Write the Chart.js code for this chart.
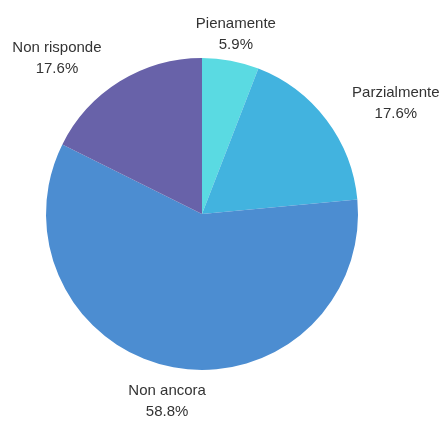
<!DOCTYPE html>
<html><head><meta charset="utf-8">
<script src="https://cdn.jsdelivr.net/npm/chart.js@4/dist/chart.umd.min.js"></script>
<style>html,body{margin:0;padding:0;background:#fff}#wrap{width:442px;height:421px}</style>
</head><body><div id="wrap"><canvas id="c" width="442" height="421"></canvas></div>
<script>
const categories = ["Pienamente", "Parzialmente", "Non ancora", "Non risponde"];
const counts = [1, 3, 10, 3];
const colors = ["#5adae2", "#42b3df", "#4c8dd1", "#6862a9"];

const total = counts.reduce((a, b) => a + b, 0);

const outLabels = {
  id: 'outLabels',
  afterDatasetsDraw(chart, args, opts) {
    const ctx = chart.ctx;
    const meta = chart.getDatasetMeta(0);
    ctx.save();
    ctx.font = '15px "Liberation Sans", Arial, sans-serif';
    ctx.fillStyle = '#333333';
    const lh = 21;
    meta.data.forEach((arc, i) => {
      const p = arc.getProps(['x', 'y', 'startAngle', 'endAngle', 'outerRadius'], true);
      const mid = (p.startAngle + p.endAngle) / 2;
      const r = p.outerRadius + 12;
      let ax = p.x + Math.cos(mid) * r;
      let ay = p.y + Math.sin(mid) * r;
      const nudge = (opts.nudge && opts.nudge[i]) || [0, 0];
      const c = Math.cos(mid), s = Math.sin(mid);
      const lines = [categories[i], (counts[i] / total * 100).toFixed(1) + '%'];
      const w = Math.max(...lines.map(t => ctx.measureText(t).width));
      let cx;
      if (c > 0.3) cx = ax + w / 2;
      else if (c < -0.3) cx = ax - w / 2;
      else cx = ax;
      let top = s < 0 ? ay - lh * 2 : ay;
      cx += nudge[0]; top += nudge[1];
      ctx.textAlign = 'center';
      ctx.textBaseline = 'middle';
      lines.forEach((t, k) => ctx.fillText(t, cx, top + lh * k + lh / 2));
    });
    ctx.restore();
  }
};

new Chart(document.getElementById('c'), {
  type: 'pie',
  data: {
    labels: categories,
    datasets: [{ data: counts, backgroundColor: colors, borderWidth: 0 }]
  },
  options: {
    responsive: false,
    animation: false,
    layout: { padding: { left: 46, right: 84, top: 58, bottom: 51 } },
    plugins: {
      legend: { display: false },
      tooltip: { enabled: false },
      outLabels: { nudge: [[3, 6], [16, 12], [-4, 1], [-12, 8]] }
    }
  },
  plugins: [outLabels]
});
</script>
</body></html>
